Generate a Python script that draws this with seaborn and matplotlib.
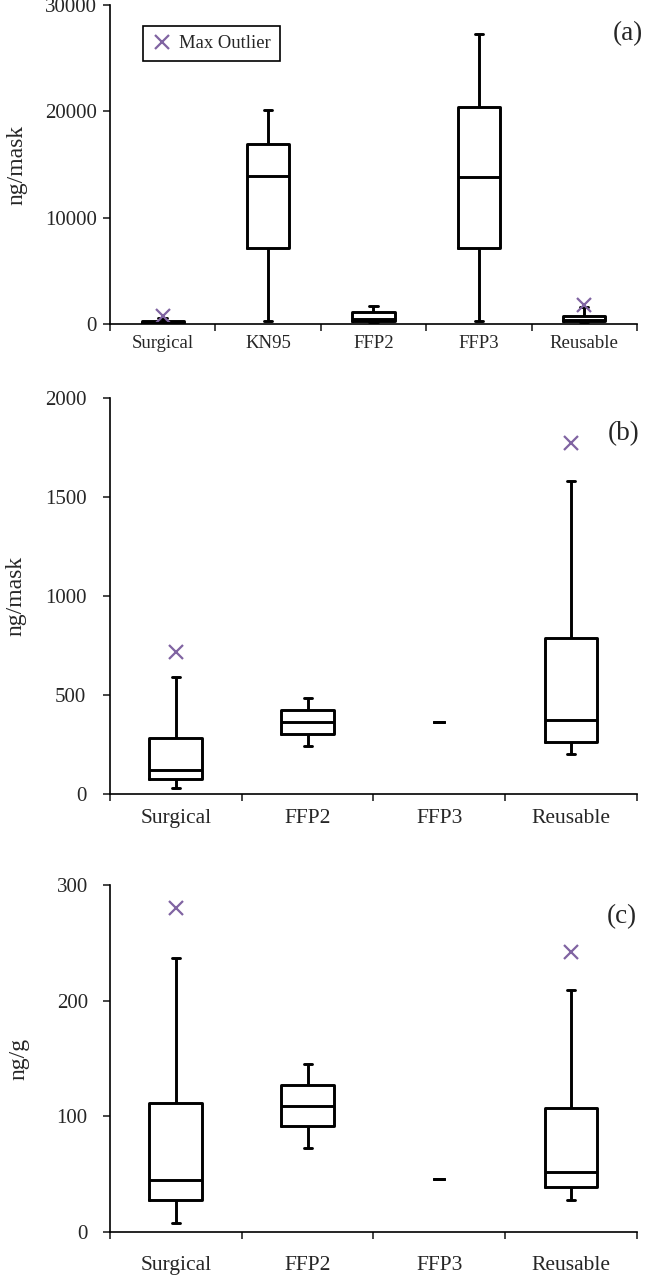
import numpy as np
import pandas as pd
import seaborn as sns
import matplotlib.pyplot as plt

# panel (a): ng/mask, all mask types
a_cats = ["Surgical", "KN95", "FFP2", "FFP3", "Reusable"]
a_min = [28, 310, 200, 310, 204]
a_q1 = [77, 7110, 300, 7110, 264]
a_med = [122, 13880, 450, 13780, 376]
a_q3 = [281, 16960, 1100, 20450, 790]
a_max = [590, 20110, 1720, 27250, 1580]
a_out = [720, np.nan, np.nan, np.nan, 1775]

# panel (b): ng/mask
b_cats = ["Surgical", "FFP2", "FFP3", "Reusable"]
b_min = [28, 242, 362, 204]
b_q1 = [77, 304, 362, 264]
b_med = [122, 364, 362, 376]
b_q3 = [281, 424, 362, 790]
b_max = [590, 483, 362, 1580]
b_out = [718, np.nan, np.nan, 1775]

# panel (c): ng/g
c_cats = ["Surgical", "FFP2", "FFP3", "Reusable"]
c_min = [7.8, 72.6, 45.5, 27.9]
c_q1 = [27.9, 91.3, 45.5, 38.6]
c_med = [44.9, 109.1, 45.5, 52.1]
c_q3 = [111.4, 126.7, 45.5, 107.4]
c_max = [237, 145, 45.5, 209]
c_out = [280, np.nan, np.nan, 242]

sns.set_style("ticks")
plt.rcParams['font.family'] = ['Liberation Serif', 'DejaVu Serif']
plt.rcParams['axes.linewidth'] = 1.2
plt.rcParams['axes.edgecolor'] = 'black'

purple = "#8064A2"


def to_long(cats, mins, q1s, meds, q3s, maxs):
    rows = []
    for c, lo, a, m, b, hi in zip(cats, mins, q1s, meds, q3s, maxs):
        for v in (lo, a, m, b, hi):
            rows.append({"mask": c, "val": v})
    return pd.DataFrame(rows)


def draw_panel(ax, cats, stats, outl, ylab, ymax, yticks, letter, letter_x,
               capw, xlab_size, xpad, ypad, ylab_x, legend=False):
    df = to_long(cats, *stats)
    single = df.groupby("mask")["val"].transform(lambda s: s.nunique() == 1).astype(bool)

    box_kw = dict(x="mask", y="val", order=cats, whis=(0, 100), fill=False,
                  color="black", linewidth=2.1, showfliers=False, ax=ax)
    sns.boxplot(data=df[~single], width=0.4, capwidths=capw, **box_kw)
    if single.any():
        sns.boxplot(data=df[single], width=0.075, capwidths=0.075, **box_kw)

    odf = pd.DataFrame({"mask": cats, "val": outl}).dropna()
    sns.pointplot(data=odf, x="mask", y="val", order=cats, linestyle="none",
                  marker="x", color=purple, markersize=10, markeredgewidth=1.6,
                  errorbar=None, label="Max Outlier" if legend else None, ax=ax)

    n = len(cats)
    ax.set_xlim(-0.5, n - 0.5)
    ax.set_ylim(0, ymax)
    ax.set_yticks(yticks)
    ax.set_xticks(range(n))
    ax.set_xticklabels(cats)
    ax.set_xticks(np.arange(-0.5, n, 1), minor=True)
    ax.tick_params(axis="x", which="major", length=0, pad=xpad, labelsize=xlab_size)
    ax.tick_params(axis="x", which="minor", length=5, width=1.2, direction="out")
    ax.tick_params(axis="y", length=5, width=1.2, pad=ypad, labelsize=15)
    ax.set_xlabel("")
    ax.set_ylabel(ylab, fontsize=17)
    ax.yaxis.set_label_coords(ylab_x, 0.5)
    sns.despine(ax=ax)
    ax.text(letter_x, 0.91, letter, transform=ax.transAxes, ha="right",
            va="center", fontsize=19.5)

    if legend:
        leg = ax.legend(loc="upper left", bbox_to_anchor=(0.063, 0.935),
                        frameon=True, fancybox=False, edgecolor="black",
                        fontsize=13.4, handlelength=1.0, handletextpad=0.4,
                        borderpad=0.5, borderaxespad=0)
        leg.get_frame().set_linewidth(1.2)
        leg.get_frame().set_alpha(1)


fig = plt.figure(figsize=(6.45, 12.81), dpi=100)
ax_a = fig.add_axes([0.1705, 0.7471, 0.817, 0.2490])
ax_b = fig.add_axes([0.1705, 0.3802, 0.817, 0.3091])
ax_c = fig.add_axes([0.1705, 0.03825, 0.817, 0.2709])

draw_panel(ax_a, a_cats, (a_min, a_q1, a_med, a_q3, a_max), a_out, "ng/mask",
           30000, [0, 10000, 20000, 30000], "(a)", 1.012, 0.08, 13.5, 8, 4.5,
           -0.157, legend=True)
draw_panel(ax_b, b_cats, (b_min, b_q1, b_med, b_q3, b_max), b_out, "ng/mask",
           2000, [0, 500, 1000, 1500, 2000], "(b)", 1.005, 0.06, 15.5, 11, 12,
           -0.159)
draw_panel(ax_c, c_cats, (c_min, c_q1, c_med, c_q3, c_max), c_out, "ng/g",
           300, [0, 100, 200, 300], "(c)", 1.0, 0.06, 15.5, 17, 11, -0.153)

fig.savefig("out.png", dpi=100)
